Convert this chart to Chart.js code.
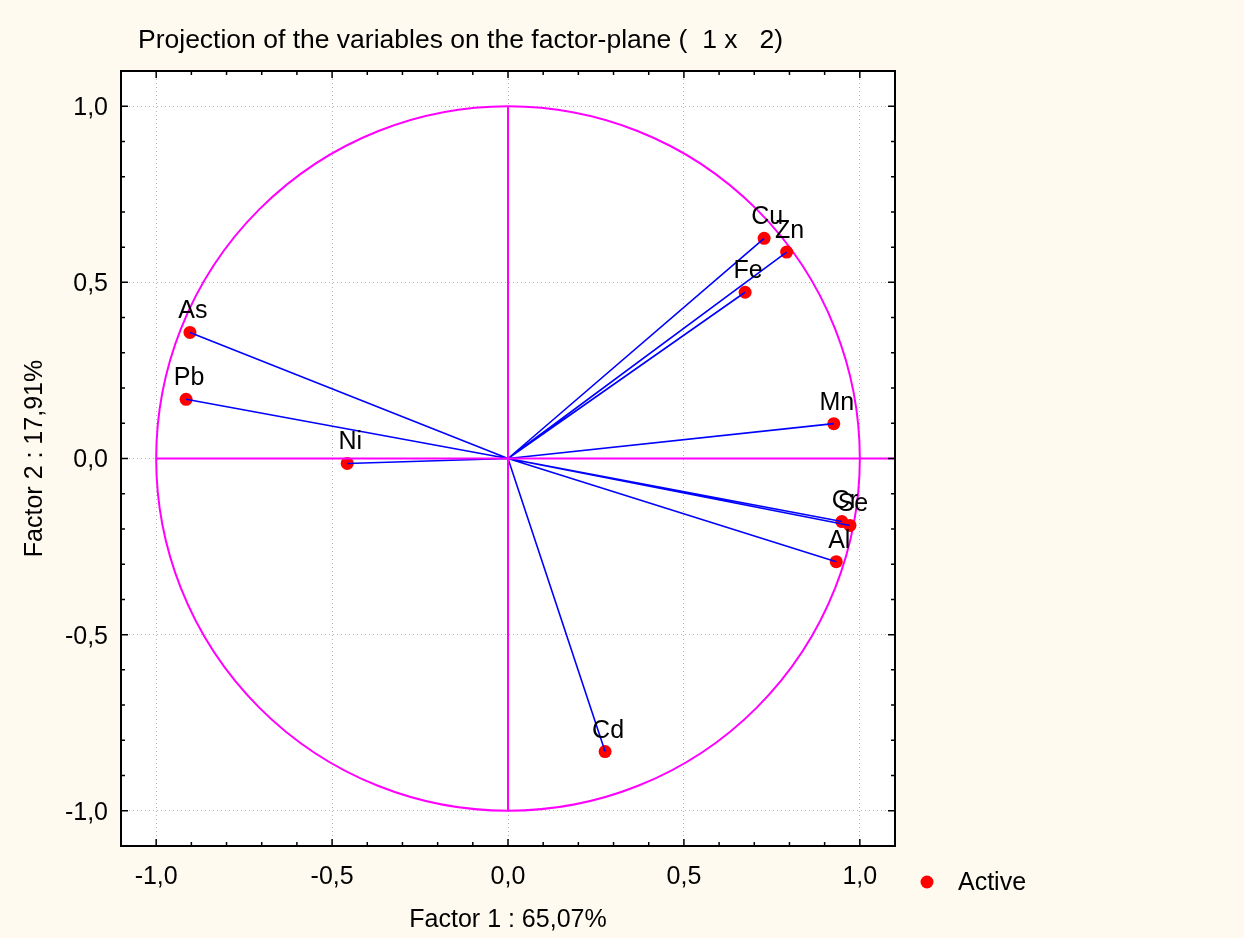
<!DOCTYPE html>
<html>
<head>
<meta charset="utf-8">
<script src="https://cdn.jsdelivr.net/npm/chart.js@4.4.1/dist/chart.umd.min.js"></script>
<style>
    html, body { margin: 0; padding: 0; background: #fefaef; }
    #wrap { width: 1244px; height: 938px; position: relative; }
</style>
</head>
<body>
<div id="wrap"><canvas id="plane"></canvas></div>
<script>
// variable coordinates on the factor plane
const variables = ['Cu', 'Zn', 'Fe', 'As', 'Pb', 'Ni', 'Mn', 'Cr', 'Se', 'Al', 'Cd'];
const factor1 = [0.728, 0.792, 0.674, -0.904, -0.915, -0.457, 0.926, 0.949, 0.972, 0.933, 0.276];
const factor2 = [0.625, 0.586, 0.472, 0.358, 0.168, -0.014, 0.099, -0.179, -0.190, -0.293, -0.832];
const tickValues = [-1.0, -0.5, 0.0, 0.5, 1.0];
const axisLineX = [-1.0, 1.1];
const axisLineY = [-1.0, 1.0];

const FONT = '"Liberation Sans", Arial, sans-serif';
const fmt = v => v.toFixed(1).replace('.', ',');

const vectors = [];
variables.forEach((v, i) => {
    vectors.push({x: 0, y: 0}, {x: factor1[i], y: factor2[i]}, {x: factor1[i], y: null});
});
const points = variables.map((v, i) => ({x: factor1[i], y: factor2[i]}));

const framePlugin = {
    id: 'frame',
    beforeDraw(chart) {
        const {ctx, chartArea: a} = chart;
        ctx.save();
        ctx.fillStyle = '#ffffff';
        ctx.fillRect(a.left, a.top, a.right - a.left, a.bottom - a.top);
        ctx.restore();
    },
    beforeDatasetsDraw(chart) {
        // unit circle
        const {ctx, chartArea: a, scales: {x, y}} = chart;
        const cx = x.getPixelForValue(0), cy = y.getPixelForValue(0);
        const rx = x.getPixelForValue(1) - cx, ry = cy - y.getPixelForValue(1);
        ctx.save();
        ctx.beginPath();
        ctx.rect(a.left, a.top, a.right - a.left, a.bottom - a.top);
        ctx.clip();
        ctx.strokeStyle = '#ff00ff';
        ctx.lineWidth = 2;
        ctx.beginPath();
        ctx.ellipse(cx, cy, rx, ry, 0, 0, Math.PI * 2);
        ctx.stroke();
        ctx.restore();
    },
    afterDatasetsDraw(chart) {
        const {ctx, scales: {x, y}} = chart;
        ctx.save();
        ctx.font = '25px ' + FONT;
        ctx.fillStyle = '#000';
        ctx.textAlign = 'center';
        ctx.textBaseline = 'alphabetic';
        variables.forEach((name, i) => {
            ctx.fillText(name, x.getPixelForValue(factor1[i]) + 3, y.getPixelForValue(factor2[i]) - 14);
        });
        ctx.restore();
    },
    afterDraw(chart) {
        const {ctx, chartArea: a, scales: {x, y}} = chart;
        ctx.save();
        // border
        ctx.strokeStyle = '#000';
        ctx.lineWidth = 2;
        ctx.strokeRect(a.left, a.top, a.right - a.left, a.bottom - a.top);
        // inward ticks, minor every 0.1
        ctx.lineWidth = 1.5;
        ctx.beginPath();
        for (let k = -11; k <= 11; k++) {
            const len = k % 5 === 0 ? 7 : 4;
            const px = x.getPixelForValue(k / 10);
            const py = y.getPixelForValue(k / 10);
            if (px > a.left + 1 && px < a.right - 1) {
                ctx.moveTo(px, a.bottom); ctx.lineTo(px, a.bottom - len);
                ctx.moveTo(px, a.top); ctx.lineTo(px, a.top + len);
            }
            if (py > a.top + 1 && py < a.bottom - 1) {
                ctx.moveTo(a.left, py); ctx.lineTo(a.left + len, py);
                ctx.moveTo(a.right, py); ctx.lineTo(a.right - len, py);
            }
        }
        ctx.stroke();
        // title
        ctx.fillStyle = '#000';
        ctx.font = '26.5px ' + FONT;
        ctx.textAlign = 'left';
        ctx.textBaseline = 'middle';
        ctx.fillText('Projection of the variables on the factor-plane (  1 x   2)', 138, 41);
        // legend
        ctx.font = '25px ' + FONT;
        ctx.fillStyle = '#ff0000';
        ctx.beginPath();
        ctx.arc(927, 882, 6.5, 0, Math.PI * 2);
        ctx.fill();
        ctx.fillStyle = '#000';
        ctx.fillText(chart.data.datasets[3].label, 958, 883);
        ctx.restore();
    }
};

new Chart(document.getElementById('plane'), {
    type: 'scatter',
    data: {
        datasets: [
            {
                label: 'axis x',
                data: axisLineX.map(v => ({x: v, y: 0})),
                showLine: true, borderColor: '#ff00ff', borderWidth: 2, pointRadius: 0
            },
            {
                label: 'axis y',
                data: axisLineY.map(v => ({x: 0, y: v})),
                showLine: true, borderColor: '#ff00ff', borderWidth: 2, pointRadius: 0
            },
            {
                label: 'vectors',
                data: vectors,
                showLine: true, spanGaps: false, borderColor: '#0000ff', borderWidth: 1.6, pointRadius: 0
            },
            {
                label: 'Active',
                data: points,
                backgroundColor: '#ff0000', borderColor: '#ff0000', pointRadius: 6.5, borderWidth: 0
            }
        ]
    },
    options: {
        responsive: true,
        maintainAspectRatio: false,
        animation: false,
        layout: { padding: { left: 0, top: 71, right: 349, bottom: 0 } },
        plugins: { legend: { display: false }, tooltip: { enabled: false } },
        scales: {
            x: {
                min: -1.1, max: 1.1,
                afterBuildTicks: s => { s.ticks = tickValues.map(v => ({value: v})); },
                afterFit: s => { s.height = 92; },
                border: { display: false, dash: [1, 3] },
                grid: { color: '#b4b4b4', drawTicks: false, lineWidth: 1 },
                ticks: { padding: 16, color: '#000', font: { family: FONT, size: 25 }, callback: v => fmt(v) },
                title: { display: true, text: 'Factor 1 : 65,07%', color: '#000', font: { family: FONT, size: 25 }, padding: { top: 0, bottom: 3 } }
            },
            y: {
                min: -1.1, max: 1.1,
                afterBuildTicks: s => { s.ticks = tickValues.map(v => ({value: v})); },
                afterFit: s => { s.width = 121; },
                border: { display: false, dash: [1, 3] },
                grid: { color: '#b4b4b4', drawTicks: false, lineWidth: 1 },
                ticks: { padding: 13, labelOffset: 2, color: '#000', font: { family: FONT, size: 25 }, callback: v => fmt(v) },
                title: { display: true, text: 'Factor 2 : 17,91%', color: '#000', font: { family: FONT, size: 25 }, padding: { top: 20, bottom: 0 } }
            }
        }
    },
    plugins: [framePlugin]
});
</script>
</body>
</html>
